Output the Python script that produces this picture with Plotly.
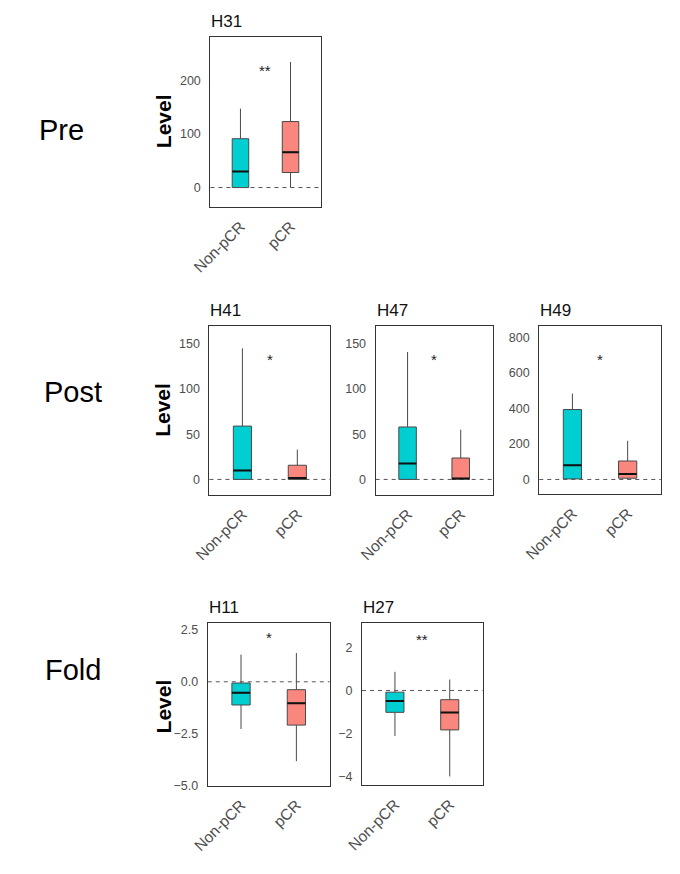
import plotly.graph_objects as go

# ---------------- data ----------------
CATEGORIES = ["Non-pCR", "pCR"]
PANELS = ["H31", "H41", "H47", "H49", "H11", "H27"]
ROW_LABELS = ["Pre", "Post", "Fold"]
Y_TITLE = "Level"

NONPCR_LOW = [0, 0, 0, 0, -2.28, -2.12]
NONPCR_Q1 = [0, 0, 0, 3, -1.12, -1.02]
NONPCR_MED = [30, 10, 17.6, 80, -0.53, -0.49]
NONPCR_Q3 = [91, 59, 58, 394, -0.06, -0.08]
NONPCR_HIGH = [147, 145, 141, 484, 1.31, 0.87]

PCR_LOW = [0, 0, 0, 0, -3.83, -4.01]
PCR_Q1 = [28, 0, 0, 7, -2.09, -1.84]
PCR_MED = [66, 1.5, 1, 31, -1.03, -1.03]
PCR_Q3 = [123, 15.7, 23.7, 104, -0.38, -0.43]
PCR_HIGH = [234, 33, 55, 218, 1.39, 0.51]

SIGNIF = ["**", "*", "*", "*", "*", "**"]

Y_TICKS = [
    [0, 100, 200],
    [0, 50, 100, 150],
    [0, 50, 100, 150],
    [0, 200, 400, 600, 800],
    [-5.0, -2.5, 0.0, 2.5],
    [-4, -2, 0, 2],
]
Y_TICKFORMAT = ["d", "d", "d", "d", ".1f", "d"]
Y_RANGES = [
    [-37, 281],
    [-17.3, 170],
    [-17.3, 170],
    [-84, 866],
    [-5.03, 2.85],
    [-4.43, 3.16],
]
REF_LINE = 0

# ---------------- layout / style ----------------
W, H = 680, 874
OFFSET = 8  # page body margin
# panel frames in screen pixels: (left, right, top, bottom)
FRAMES = [
    (196.7, 310, 37, 209),
    (195.7, 320, 328.3, 499),
    (366.7, 487, 328.3, 499),
    (535, 660, 328.3, 498.3),
    (194, 319.3, 627.7, 792.3),
    (352.7, 476.7, 627.7, 791.7),
]
STAR_FRAC = [0.80, 0.80, 0.80, 0.80, 0.91, 0.895]
ROW_POS = [(43, 131), (55, 395), (55, 675)]
LEVEL_POS = [(148, 122), (148, 413), (148, 712)]

COLORS = ["#00CED1", "#F9877D"]
BOX_W = 0.33
FONT = "Arial, Liberation Sans, sans-serif"

fig = go.Figure()


def px_x(v):
    return (v - OFFSET) / W


def px_y(v):
    return 1 - (v - OFFSET) / H


stats = [
    (NONPCR_LOW, NONPCR_Q1, NONPCR_MED, NONPCR_Q3, NONPCR_HIGH),
    (PCR_LOW, PCR_Q1, PCR_MED, PCR_Q3, PCR_HIGH),
]

shapes = []
annotations = []

for i, name in enumerate(PANELS):
    n = i + 1
    xa = "x" if n == 1 else f"x{n}"
    ya = "y" if n == 1 else f"y{n}"
    for c, cat in enumerate(CATEGORIES):
        lo, q1, med, q3, hi = (s[i] for s in stats[c])
        pos = c + 1
        fig.add_trace(go.Box(
            x=[pos], q1=[q1], median=[med], q3=[q3],
            lowerfence=[lo], upperfence=[hi],
            width=BOX_W, whiskerwidth=0,
            fillcolor=COLORS[c],
            line=dict(color="#4a4a4a", width=1),
            boxpoints=False, showlegend=False, hoverinfo="skip",
            xaxis=xa, yaxis=ya, name=cat,
        ))
        # emphasised median line
        fig.add_trace(go.Scatter(
            x=[pos - BOX_W / 2, pos + BOX_W / 2], y=[med, med],
            mode="lines", line=dict(color="#111111", width=2),
            showlegend=False, hoverinfo="skip", xaxis=xa, yaxis=ya,
        ))

    l, r, t, b = FRAMES[i]
    axkey = "" if n == 1 else str(n)
    fig.update_layout(**{
        f"xaxis{axkey}": dict(
            domain=[px_x(l), px_x(r)], anchor=ya,
            range=[0.4, 2.6], tickvals=[1, 2], ticktext=CATEGORIES,
            tickangle=-45, tickfont=dict(size=15.5, color="#4d4d4d", family=FONT),
            ticks="outside", ticklen=3, tickcolor="rgba(0,0,0,0)",
            showgrid=False, zeroline=False, showline=True, mirror=True,
            linecolor="#333333", linewidth=1.2, fixedrange=True,
        ),
        f"yaxis{axkey}": dict(
            domain=[px_y(b), px_y(t)], anchor=xa,
            range=Y_RANGES[i], tickvals=Y_TICKS[i], tickformat=Y_TICKFORMAT[i],
            tickfont=dict(size=12.5, color="#4d4d4d", family=FONT),
            ticks="outside", ticklen=6, tickcolor="rgba(0,0,0,0)",
            showgrid=False, zeroline=False, showline=True, mirror=True,
            linecolor="#333333", linewidth=1.2, fixedrange=True,
        ),
    })
    shapes.append(dict(
        type="line", xref=f"{xa} domain", yref=ya,
        x0=0, x1=1, y0=REF_LINE, y1=REF_LINE,
        line=dict(color="#555555", width=1, dash="4px,4px"), layer="above",
    ))
    annotations.append(dict(
        text=name, xref="paper", yref="paper",
        x=px_x(l - 1), y=px_y(t - 4), xanchor="left", yanchor="bottom",
        showarrow=False, font=dict(size=17, color="#111111", family=FONT),
    ))
    annotations.append(dict(
        text=SIGNIF[i], xref=xa, yref=f"{ya} domain",
        x=1.5, y=STAR_FRAC[i], xanchor="center", yanchor="middle",
        showarrow=False, font=dict(size=15, color="#222222", family=FONT),
    ))

for label, (x, y) in zip(ROW_LABELS, ROW_POS):
    annotations.append(dict(
        text=label, xref="paper", yref="paper", x=px_x(x), y=px_y(y),
        xanchor="center", yanchor="middle", showarrow=False,
        font=dict(size=29, color="#000000", family=FONT),
    ))

for (x, y) in LEVEL_POS:
    annotations.append(dict(
        text=f"<b>{Y_TITLE}</b>", xref="paper", yref="paper", x=px_x(x), y=px_y(y),
        xanchor="center", yanchor="middle", textangle=-90, showarrow=False,
        font=dict(size=21, color="#000000", family=FONT),
    ))

fig.update_layout(
    width=W, height=H, margin=dict(l=0, r=0, t=0, b=0),
    paper_bgcolor="white", plot_bgcolor="white",
    shapes=shapes, annotations=annotations, showlegend=False,
    boxmode="overlay",
)

fig.write_html("out.html")
